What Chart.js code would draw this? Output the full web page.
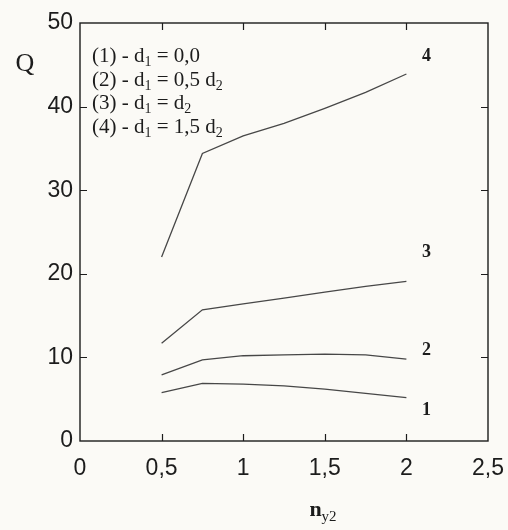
<!DOCTYPE html>
<html>
<head>
<meta charset="utf-8">
<script src="https://cdn.jsdelivr.net/npm/chart.js@4"></script>
<style>
  html, body { margin: 0; padding: 0; background: #fbfaf6; }
  #wrap { width: 508px; height: 530px; position: relative; }
</style>
</head>
<body>
<div id="wrap"><canvas id="c" width="508" height="530"></canvas></div>
<script>
// ---- data ----
const nValues = [0.5, 0.75, 1, 1.25, 1.5, 1.75, 2];
const curve1 = [5.8, 6.9, 6.8, 6.6, 6.2, 5.7, 5.2];
const curve2 = [7.9, 9.7, 10.2, 10.3, 10.4, 10.3, 9.8];
const curve3 = [11.7, 15.7, 16.4, 17.1, 17.8, 18.5, 19.1];
const curve4 = [22.0, 34.4, 36.5, 38.0, 39.8, 41.7, 43.9];
const curveNames = ['1', '2', '3', '4'];
const curveLabelY = [3.7, 10.8, 22.6, 46.0];   // where the curve numbers sit (Q units)
const xTicks = [0, 0.5, 1, 1.5, 2, 2.5];
const yTicks = [0, 10, 20, 30, 40, 50];
const legendLines = [
  [['(1) - d', 0], ['1', 1], [' = 0,0', 0]],
  [['(2) - d', 0], ['1', 1], [' = 0,5 d', 0], ['2', 1]],
  [['(3) - d', 0], ['1', 1], [' = d', 0], ['2', 1]],
  [['(4) - d', 0], ['1', 1], [' = 1,5 d', 0], ['2', 1]]
];

const INK = '#1c1c1c';
const LINE = '#474747';
const SERIF = '"Liberation Serif", "Times New Roman", serif';
const SANS = '"Liberation Sans", Arial, sans-serif';

function drawRich(ctx, x, y, segs, size, subSize, weight) {
  let cx = x;
  for (const [t, sub] of segs) {
    ctx.font = (weight || 'normal') + ' ' + (sub ? subSize : size) + 'px ' + SERIF;
    ctx.fillText(t, cx, sub ? y + Math.round(size * 0.2) : y);
    cx += ctx.measureText(t).width;
  }
  return cx - x;
}
function richWidth(ctx, segs, size, subSize, weight) {
  let w = 0;
  for (const [t, sub] of segs) {
    ctx.font = (weight || 'normal') + ' ' + (sub ? subSize : size) + 'px ' + SERIF;
    w += ctx.measureText(t).width;
  }
  return w;
}

const decor = {
  id: 'decor',
  beforeDraw(chart) {
    const ctx = chart.ctx;
    ctx.save();
    ctx.fillStyle = '#fbfaf6';
    ctx.fillRect(0, 0, chart.width, chart.height);
    ctx.restore();
  },
  afterDraw(chart) {
    const ctx = chart.ctx;
    const a = chart.chartArea;
    const xs = chart.scales.x, ys = chart.scales.y;
    ctx.save();
    // frame
    ctx.strokeStyle = INK;
    ctx.lineWidth = 1.4;
    ctx.strokeRect(a.left, a.top, a.right - a.left, a.bottom - a.top);
    // inward ticks on all four sides
    const TL = 7;
    ctx.lineWidth = 1.2;
    ctx.beginPath();
    xs.ticks.forEach(t => {
      if (t.value <= xs.min || t.value >= xs.max) return;
      const px = Math.round(xs.getPixelForValue(t.value)) + 0.5;
      ctx.moveTo(px, a.bottom); ctx.lineTo(px, a.bottom - TL);
      ctx.moveTo(px, a.top); ctx.lineTo(px, a.top + TL);
    });
    ys.ticks.forEach(t => {
      if (t.value <= ys.min || t.value >= ys.max) return;
      const py = Math.round(ys.getPixelForValue(t.value)) + 0.5;
      ctx.moveTo(a.left, py); ctx.lineTo(a.left + TL, py);
      ctx.moveTo(a.right, py); ctx.lineTo(a.right - TL, py);
    });
    ctx.stroke();

    ctx.fillStyle = INK;
    ctx.textBaseline = 'alphabetic';
    ctx.textAlign = 'left';
    // legend text block
    const lx = 92, ly0 = 62, lstep = 23.7;
    legendLines.forEach((segs, i) => {
      drawRich(ctx, lx, ly0 + i * lstep, segs, 21, 14, 'normal');
    });

    // curve numbers at the right end of each curve
    ctx.font = 'bold 18px ' + SERIF;
    ctx.textAlign = 'center';
    ctx.textBaseline = 'middle';
    const lxp = xs.getPixelForValue(nValues[nValues.length - 1]) + 20;
    curveNames.forEach((nm, i) => {
      ctx.fillText(nm, lxp, ys.getPixelForValue(curveLabelY[i]));
    });

    // y-axis title Q
    ctx.font = '26px ' + SERIF;
    ctx.textAlign = 'center';
    ctx.textBaseline = 'alphabetic';
    ctx.fillText('Q', 25, 71);

    // x-axis title n_y2
    ctx.textAlign = 'left';
    const xt = [['n', 0], ['y2', 1]];
    const w = richWidth(ctx, xt, 22, 15, 'bold');
    const cx = (a.left + a.right) / 2 + 39;
    let px = cx - w / 2;
    ctx.font = 'bold 22px ' + SERIF;
    ctx.fillText('n', px, 516);
    px += ctx.measureText('n').width;
    ctx.font = '15px ' + SERIF;
    ctx.fillText('y2', px, 521);
    ctx.restore();
  }
};

const mk = (d) => ({
  data: nValues.map((x, i) => ({ x, y: d[i] })),
  borderColor: LINE,
  borderWidth: 1.3,
  pointRadius: 0,
  tension: 0,
  fill: false
});

new Chart(document.getElementById('c'), {
  type: 'line',
  data: { datasets: [mk(curve1), mk(curve2), mk(curve3), mk(curve4)] },
  options: {
    responsive: false,
    animation: false,
    devicePixelRatio: 1,
    layout: { padding: { top: 23, right: 20, left: 0, bottom: 0 } },
    plugins: { legend: { display: false }, tooltip: { enabled: false } },
    scales: {
      x: {
        type: 'linear', min: 0, max: 2.5,
        afterBuildTicks: s => { s.ticks = xTicks.map(v => ({ value: v })); },
        afterFit: s => { s.height = 89; s.paddingLeft = 0; s.paddingRight = 0; },
        grid: { display: false, drawTicks: false },
        border: { display: false },
        ticks: {
          padding: 14, color: INK, maxRotation: 0, autoSkip: false,
          font: { family: SANS, size: 23 },
          callback: v => String(v).replace('.', ',')
        }
      },
      y: {
        type: 'linear', min: 0, max: 50,
        afterBuildTicks: s => { s.ticks = yTicks.map(v => ({ value: v })); },
        afterFit: s => { s.width = 80; s.paddingTop = 0; s.paddingBottom = 0; },
        grid: { display: false, drawTicks: false },
        border: { display: false },
        ticks: {
          padding: 7, color: INK, autoSkip: false,
          font: { family: SANS, size: 23 },
          callback: v => String(v)
        }
      }
    }
  },
  plugins: [decor]
});
</script>
</body>
</html>
